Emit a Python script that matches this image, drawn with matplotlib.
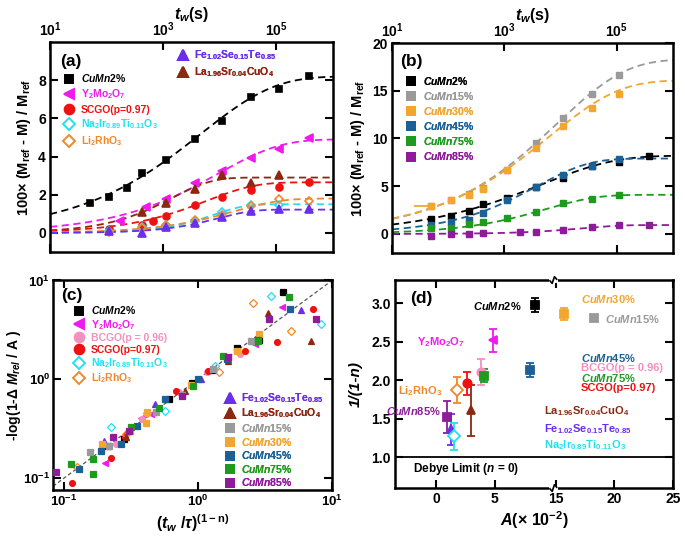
import numpy as np
import matplotlib
matplotlib.use('Agg')
import matplotlib.pyplot as plt
from matplotlib.lines import Line2D
from matplotlib.ticker import FixedLocator, FuncFormatter, NullLocator

plt.rcParams['font.family'] = ['Liberation Sans', 'DejaVu Sans']
plt.rcParams['font.weight'] = 'bold'
plt.rcParams['axes.labelweight'] = 'bold'
plt.rcParams['mathtext.fontset'] = 'custom'
plt.rcParams['mathtext.rm'] = 'Liberation Sans:bold'
plt.rcParams['mathtext.bf'] = 'Liberation Sans:bold'
plt.rcParams['mathtext.it'] = 'Liberation Sans:bold:italic'
plt.rcParams['mathtext.bfit'] = 'Liberation Sans:bold:italic'
plt.rcParams['mathtext.sf'] = 'Liberation Sans:bold'

# ---------------- colours ----------------
C_2 = '#000000'; C_Y = '#EE1BEE'; C_SC = '#EE1111'; C_NA = '#22E0F0'
C_LI = '#F0882A'; C_FE = '#6B2EEA'; C_LA = '#8B2812'; C_BC = '#F48FC0'
C_15 = '#9A9A9A'; C_30 = '#F2A630'; C_45 = '#1B6096'; C_75 = '#1E9A1E'; C_85 = '#8E1C9A'

# ---------------- panel (a) data ----------------
tw_cumn2 = [50, 110, 230, 420, 1100, 3600, 11000, 36000, 110000, 370000]
m_cumn2 = [1.57, 1.86, 2.37, 3.13, 3.81, 4.94, 5.86, 7.13, 7.53, 8.21]
tw_y2 = [170, 500, 1100, 3600, 11000, 36000, 110000, 370000]
m_y2 = [0.64, 1.34, 1.77, 2.61, 3.22, 3.95, 4.40, 4.96]
tw_la = [420, 1100, 3600, 11000, 36000, 110000]
m_la = [1.08, 1.57, 2.30, 3.03, 2.64, 3.01]
tw_scgo = [110, 420, 650, 1100, 3600, 11000, 36000, 110000, 370000]
m_scgo = [0.21, 0.43, 0.61, 0.90, 1.44, 1.88, 2.26, 2.43, 2.68]
tw_na = [110, 420, 1100, 3600, 11000, 36000, 110000]
m_na = [0.10, 0.30, 0.42, 0.62, 1.10, 1.44, 1.46]
tw_li = [110, 420, 1100, 3600, 11000, 36000, 110000, 370000]
m_li = [0.05, 0.26, 0.40, 0.66, 0.96, 1.39, 1.77, 1.69]
tw_fe = [110, 420, 1100, 3600, 11000, 36000, 110000, 370000]
m_fe = [0.12, -0.02, 0.30, 0.52, 0.82, 1.13, 1.25, 1.27]

# ---------------- panel (b) data ----------------
tw_b = [50, 110, 230, 420, 1100, 3600, 11000, 36000, 110000]
m_15 = [2.90, 3.55, 4.15, 4.80, 6.75, 9.50, 12.15, 14.70, 16.60]
m_30 = [2.92, 3.59, 4.12, 4.75, 6.69, 9.05, 11.34, 13.20, 14.68]
m_45 = [0.92, 1.23, 1.44, 2.18, 3.59, 4.93, 6.16, 7.11, 7.85]
m_75 = [0.60, 0.63, 0.99, 1.23, 1.62, 2.29, 3.24, 3.70, 4.05]
tw_85 = [50, 110, 230, 420, 1900, 3600, 11000, 36000, 110000, 370000]
m_85 = [-0.18, -0.04, 0.00, 0.07, 0.18, 0.25, 0.42, 0.77, 0.95, 0.95]
xerr_30_first = [25, 0]

# ---------------- stretched-exponential fit parameters ----------------
# order: CuMn2, Y2Mo2O7, La, SCGO, Na2Ir, Li2RhO3, Fe, CuMn15, CuMn30, CuMn45, CuMn75, CuMn85
fit_A = [8.2, 4.9, 2.9, 2.65, 1.5, 1.8, 1.22, 18.3, 16.1, 7.9, 4.1, 0.93]
fit_beta = [0.336, 0.397, 0.62, 0.51, 0.787, 0.535, 0.735, 0.356, 0.35, 0.469, 0.485, 0.658]
fit_tau = [4600, 9270, 1440, 5800, 7750, 18300, 9500, 8650, 6220, 3770, 5430, 23900]

# ---------------- panel (c) data ----------------
c_x_cumn2 = [0.213, 0.280, 0.611, 0.907, 1.30, 1.97, 2.87, 4.28]
c_y_cumn2 = [0.212, 0.248, 0.628, 0.925, 1.24, 2.06, 2.50, 7.62]
c_x_y2 = [0.202, 0.373, 0.443, 1.69, 2.65, 4.26]
c_y_y2 = [0.144, 0.410, 0.443, 1.67, 2.27, 5.38]
c_x_bcgo = [0.244, 0.38, 0.72, 1.17, 2.05, 3.41]
c_y_bcgo = [0.221, 0.40, 0.74, 1.20, 1.79, 4.20]
c_x_scgo = [0.115, 0.224, 0.285, 0.685, 1.19, 2.23, 3.91, 7.21]
c_y_scgo = [0.0904, 0.159, 0.259, 0.769, 1.21, 1.92, 2.40, 5.17]
c_x_na = [0.224, 0.570, 1.34, 3.49, 8.28]
c_y_na = [0.333, 0.475, 1.37, 7.00, 3.62]
c_x_li = [0.125, 0.29, 0.42, 1.43, 2.56, 4.92]
c_y_li = [0.13, 0.28, 0.46, 1.19, 5.86, 3.05]
c_x_fe = [0.200, 0.481, 1.05, 1.67, 2.59, 5.87]
c_y_fe = [0.238, 0.563, 1.00, 1.60, 2.46, 4.98]
c_x_la = [0.29, 0.800, 1.67, 3.31, 7.01]
c_y_la = [0.26, 0.763, 1.53, 4.64, 2.46]
c_x_15 = [0.156, 0.217, 0.486, 0.755, 1.30, 2.47]
c_y_15 = [0.183, 0.214, 0.471, 0.70, 1.28, 2.46]
c_x_30 = [0.193, 0.31, 0.407, 0.419, 0.89, 1.94, 2.87]
c_y_30 = [0.222, 0.30, 0.365, 0.464, 0.88, 1.93, 2.85]
c_x_45 = [0.130, 0.189, 0.268, 0.352, 0.567, 1.00, 1.64, 2.82, 4.83]
c_y_45 = [0.123, 0.190, 0.221, 0.338, 0.628, 1.00, 1.59, 2.50, 5.17]
c_x_75 = [0.113, 0.166, 0.166, 0.316, 0.514, 0.912, 1.55, 2.82, 4.75]
c_y_75 = [0.140, 0.157, 0.110, 0.333, 0.518, 0.857, 1.72, 2.46, 6.73]
c_x_85 = [0.0867, 0.233, 0.304, 0.755, 1.69, 3.41, 7.60]
c_y_85 = [0.115, 0.259, 0.303, 0.679, 1.67, 4.07, 4.07]

# ---------------- panel (d) data ----------------
d_A = [8.4, 15.7, 18.3, 4.9, 8.05, 3.8, 4.07, 2.6, 1.78, 2.97, 0.93, 1.27, 1.5]
d_inv = [2.98, 2.86, 2.81, 2.52, 2.13, 2.11, 2.06, 1.96, 1.87, 1.61, 1.52, 1.36, 1.27]
d_err = [0.09, 0.08, 0.03, 0.15, 0.09, 0.17, 0.09, 0.15, 0.17, 0.33, 0.21, 0.20, 0.18]
d_colors = [C_2, C_30, C_15, C_Y, C_45, C_BC, C_75, C_SC, C_LI, C_LA, C_85, C_FE, C_NA]
d_markers = ['s', 's', 's', '<', 's', 'o', 's', 'o', 'D', '^', 's', '^', 'D']
d_open = [False]*8 + [True] + [False]*3 + [True]

# ---------------- labels ----------------
L_2 = r'$\mathit{CuMn2\%}$'
L_15 = r'$\mathit{CuMn15\%}$'
L_30 = r'$\mathit{CuMn30\%}$'
L_45 = r'$\mathit{CuMn45\%}$'
L_75 = r'$\mathit{CuMn75\%}$'
L_85 = r'$\mathit{CuMn85\%}$'
L_Y = r'$\mathrm{Y_2Mo_2O_7}$'
L_SC = 'SCGO(p=0.97)'
L_BC = 'BCGO(p = 0.96)'
L_NA = r'$\mathrm{Na_2Ir_{0.89}Ti_{0.11}O_3}$'
L_LI = r'$\mathrm{Li_2RhO_3}$'
L_FE = r'$\mathrm{Fe_{1.02}Se_{0.15}Te_{0.85}}$'
L_LA = r'$\mathrm{La_{1.96}Sr_{0.04}CuO_4}$'

fig = plt.figure(figsize=(6.85, 5.38), dpi=100)
axA = fig.add_axes([0.073, 0.5316, 0.4131, 0.3903])
axB = fig.add_axes([0.5723, 0.5297, 0.4102, 0.3903])
axC = fig.add_axes([0.0774, 0.0892, 0.4073, 0.3903])
axD = fig.add_axes([0.5766, 0.0929, 0.4058, 0.3866])


def style(ax, lsize=10):
    for s in ax.spines.values():
        s.set_linewidth(1.8)
    ax.tick_params(which='major', direction='in', length=6, width=1.5,
                   labelsize=lsize, top=True, right=True, pad=3)
    ax.tick_params(which='minor', length=0, width=0)


logfmt = FuncFormatter(lambda v, p: r'$10^{%d}$' % int(round(np.log10(v))))
t_fit = np.logspace(1, 6, 300)
DASH = (0, (4, 2.5))


def fit_curve(ax, i, color):
    y = fit_A[i] * (1 - np.exp(-(t_fit / fit_tau[i]) ** fit_beta[i]))
    ax.plot(t_fit, y, ls=DASH, color=color, lw=1.3, zorder=2)


def handle(m, c, ms, openm=False):
    return Line2D([], [], ls='none', marker=m, color=c, mec=c,
                  mfc='none' if openm else c, ms=ms, mew=1.4)


def legend(ax, items, anchor, fs=7.5, spacing=0.3):
    hs = [handle(m, c, ms, o) for (m, c, ms, o, l) in items]
    ls = [l for (m, c, ms, o, l) in items]
    leg = ax.legend(hs, ls, loc='upper left', bbox_to_anchor=anchor, frameon=False,
                    fontsize=fs, handlelength=1.0, handletextpad=0.6,
                    labelspacing=spacing, borderpad=0, borderaxespad=0,
                    labelcolor='linecolor')
    ax.add_artist(leg)


def tw_axes(ax):
    ax.set_xscale('log')
    ax.set_xlim(10, 1e6)
    ax.xaxis.set_major_locator(FixedLocator([10, 1e3, 1e5]))
    ax.xaxis.set_minor_locator(NullLocator())
    ax.xaxis.set_major_formatter(logfmt)
    style(ax)
    ax.tick_params(labeltop=True, labelbottom=False)
    ax.tick_params(axis='x', pad=2)
    ax.xaxis.set_label_position('top')
    ax.set_xlabel(r'$t_w$(s)', fontsize=11.5, labelpad=1)
    ax.set_ylabel(r'100$\times$ (M$_{\mathrm{ref}}$ - M) / M$_{\mathrm{ref}}$', fontsize=10.5, labelpad=4)


# ================= panel (a) =================
tw_axes(axA)
axA.set_ylim(-1, 10)
axA.set_yticks([0, 2, 4, 6, 8])
series_a = [
    (tw_cumn2, m_cumn2, 0, C_2, 's', 3.8, False),
    (tw_y2, m_y2, 1, C_Y, '<', 5.5, False),
    (tw_la, m_la, 2, C_LA, '^', 5.5, False),
    (tw_scgo, m_scgo, 3, C_SC, 'o', 5, False),
    (tw_na, m_na, 4, C_NA, 'D', 4.5, True),
    (tw_li, m_li, 5, C_LI, 'D', 4.5, True),
    (tw_fe, m_fe, 6, C_FE, '^', 5.5, False),
]
for tw, m, i, c, mk, ms, o in series_a:
    fit_curve(axA, i, c)
    axA.plot(tw, m, ls='none', marker=mk, color=c, mec=c, mfc='none' if o else c,
             ms=ms, mew=1.2, zorder=3)
axA.text(0.035, 0.905, '(a)', transform=axA.transAxes, fontsize=12.5, va='center')
legend(axA, [('s', C_2, 6, False, L_2), ('<', C_Y, 7.5, False, L_Y),
             ('o', C_SC, 7, False, L_SC), ('D', C_NA, 6.5, True, L_NA),
             ('D', C_LI, 6.5, True, L_LI)], (0.05, 0.855))
legend(axA, [('^', C_FE, 7.5, False, L_FE), ('^', C_LA, 7.5, False, L_LA)], (0.45, 0.97))

# ================= panel (b) =================
tw_axes(axB)
axB.set_ylim(-2, 20)
axB.set_yticks([0, 5, 10, 15, 20])
fit_curve(axB, 7, C_15)
fit_curve(axB, 8, C_30)
fit_curve(axB, 0, C_2)
fit_curve(axB, 9, C_45)
fit_curve(axB, 10, C_75)
fit_curve(axB, 11, C_85)
axB.errorbar(tw_b[:1], m_30[:1], xerr=[[xerr_30_first[0]], [xerr_30_first[1]]],
             ls='none', color=C_30, lw=1.3, zorder=2)
for tw, m, c in [(tw_b, m_15, C_15), (tw_b, m_30, C_30), (tw_cumn2, m_cumn2, C_2),
                 (tw_b, m_45, C_45), (tw_b, m_75, C_75), (tw_85, m_85, C_85)]:
    axB.plot(tw, m, ls='none', marker='s', color=c, ms=4.5, zorder=3)
axB.text(0.03, 0.91, '(b)', transform=axB.transAxes, fontsize=12.5, va='center')
legend(axB, [('s', C_2, 6, False, L_2), ('s', C_15, 6, False, L_15),
             ('s', C_30, 6, False, L_30), ('s', C_45, 6, False, L_45),
             ('s', C_75, 6, False, L_75), ('s', C_85, 6, False, L_85)], (0.05, 0.85))

# ================= panel (c) =================
axC.set_xscale('log'); axC.set_yscale('log')
axC.set_xlim(0.083, 10); axC.set_ylim(0.076, 10.1)
for a in (axC.xaxis, axC.yaxis):
    a.set_major_locator(FixedLocator([0.1, 1, 10]))
    a.set_minor_locator(NullLocator())
    a.set_major_formatter(logfmt)
style(axC, lsize=9.5)
axC.tick_params(axis='y', pad=2)
axC.axline((0.1, 0.1), (1, 1), color='#555555', lw=0.9, ls=(0, (3, 2)), zorder=1)
series_c = [
    (c_x_cumn2, c_y_cumn2, C_2, 's', 3.8, False),
    (c_x_y2, c_y_y2, C_Y, '<', 4.5, False),
    (c_x_bcgo, c_y_bcgo, C_BC, 'o', 4.2, False),
    (c_x_scgo, c_y_scgo, C_SC, 'o', 4.2, False),
    (c_x_na, c_y_na, C_NA, 'D', 3.8, True),
    (c_x_li, c_y_li, C_LI, 'D', 3.8, True),
    (c_x_fe, c_y_fe, C_FE, '^', 4.5, False),
    (c_x_la, c_y_la, C_LA, '^', 4.5, False),
    (c_x_15, c_y_15, C_15, 's', 3.8, False),
    (c_x_30, c_y_30, C_30, 's', 3.8, False),
    (c_x_45, c_y_45, C_45, 's', 3.8, False),
    (c_x_75, c_y_75, C_75, 's', 3.8, False),
    (c_x_85, c_y_85, C_85, 's', 3.8, False),
]
for x, y, c, mk, ms, o in series_c:
    axC.plot(x, y, ls='none', marker=mk, color=c, mec=c, mfc='none' if o else c,
             ms=ms, mew=0.9, zorder=3)
axC.text(0.03, 0.925, '(c)', transform=axC.transAxes, fontsize=12.5, va='center')
legend(axC, [('s', C_2, 6, False, L_2), ('<', C_Y, 7.5, False, L_Y),
             ('o', C_BC, 7, False, L_BC), ('o', C_SC, 7, False, L_SC),
             ('D', C_NA, 6.5, True, L_NA), ('D', C_LI, 6.5, True, L_LI)],
       (0.075, 0.885), spacing=0.15)
legend(axC, [('^', C_FE, 7.5, False, L_FE), ('^', C_LA, 7.5, False, L_LA),
             ('s', C_15, 6, False, L_15), ('s', C_30, 6, False, L_30),
             ('s', C_45, 6, False, L_45), ('s', C_75, 6, False, L_75),
             ('s', C_85, 6, False, L_85)], (0.615, 0.47), spacing=0.15)
axC.set_xlabel(r'($t_w$ /$\tau$)$^{\mathrm{(1-n)}}$', fontsize=11.5, labelpad=2)
axC.set_ylabel(r'-log(1-$\Delta$ $M_{rel}$ / A )', fontsize=10, labelpad=0)

# ================= panel (d) =================
BRK_LO, BRK_HI = 10.0, 14.8


def fwd(x):
    x = np.asarray(x, float)
    return np.where(x <= BRK_LO, x, np.where(x >= BRK_HI, x - (BRK_HI - BRK_LO), BRK_LO))


def inv(y):
    y = np.asarray(y, float)
    return np.where(y <= BRK_LO, y, y + (BRK_HI - BRK_LO))


axD.set_xscale('function', functions=(fwd, inv))
axD.set_xlim(-3.5, 25)
axD.set_ylim(0.6, 3.3)
axD.xaxis.set_major_locator(FixedLocator([0, 5, 15, 20, 25]))
axD.xaxis.set_minor_locator(NullLocator())
axD.xaxis.set_major_formatter(FuncFormatter(lambda v, p: '%d' % round(v)))
axD.set_yticks([1.0, 1.5, 2.0, 2.5, 3.0])
axD.yaxis.set_major_formatter(FuncFormatter(lambda v, p: '%.1f' % v))
style(axD)
axD.axhline(1.0, color='black', lw=1.3, zorder=1)
for A, v, e, c, mk, o in zip(d_A, d_inv, d_err, d_colors, d_markers, d_open):
    axD.errorbar([A], [v], yerr=[e], ls='none', marker=mk, color=c, mec=c,
                 mfc='white' if o else c, ms=6, mew=1.3, elinewidth=1.3,
                 capsize=3, capthick=1.3, zorder=3)
# axis break marks
x0, x1 = fwd(-3.5), fwd(25)
xb = float((fwd(BRK_LO) - x0) / (x1 - x0))
for y0 in (0.0, 1.0):
    axD.plot([xb - 0.007, xb + 0.007], [y0, y0], color='white', lw=3.5,
             transform=axD.transAxes, clip_on=False, zorder=6)
    axD.plot([xb - 0.012, xb - 0.004, xb + 0.004, xb + 0.012],
             [y0 - 0.004, y0 - 0.016, y0 + 0.016, y0 + 0.004], color='black',
             lw=1.2, transform=axD.transAxes, clip_on=False, zorder=7)

dtexts = [
    ('(d)', 0.054, 0.913, 'left', 'black', 12.5),
    (L_2, 0.457, 0.875, 'right', C_2, 8),
    (L_30, 0.669, 0.909, 'left', C_30, 8),
    (L_15, 0.755, 0.8125, 'left', C_15, 8),
    (L_Y, 0.252, 0.702, 'right', C_Y, 8),
    (L_45, 0.669, 0.625, 'left', C_45, 8),
    (L_BC, 0.669, 0.577, 'left', C_BC, 8),
    (L_75, 0.669, 0.529, 'left', C_75, 8),
    (L_SC, 0.669, 0.481, 'left', C_SC, 8),
    (L_LI, 0.169, 0.466, 'right', C_LI, 8),
    (L_85, 0.165, 0.370, 'right', C_85, 8),
    (L_LA, 0.536, 0.370, 'left', C_LA, 8),
    (L_FE, 0.536, 0.284, 'left', C_FE, 8),
    (L_NA, 0.536, 0.207, 'left', C_NA, 8),
    (r'Debye Limit ($n$ = 0)', 0.065, 0.091, 'left', 'black', 8.5),
]
for s, fx, fy, ha, c, fs in dtexts:
    axD.text(fx, fy, s, transform=axD.transAxes, ha=ha, va='center', color=c, fontsize=fs)
axD.set_xlabel(r'$A$(× 10$^{-2}$)', fontsize=11.5, labelpad=2)
axD.set_ylabel('1/(1-n)', fontsize=11, fontstyle='italic', labelpad=6)

fig.savefig('out.png', dpi=100)
